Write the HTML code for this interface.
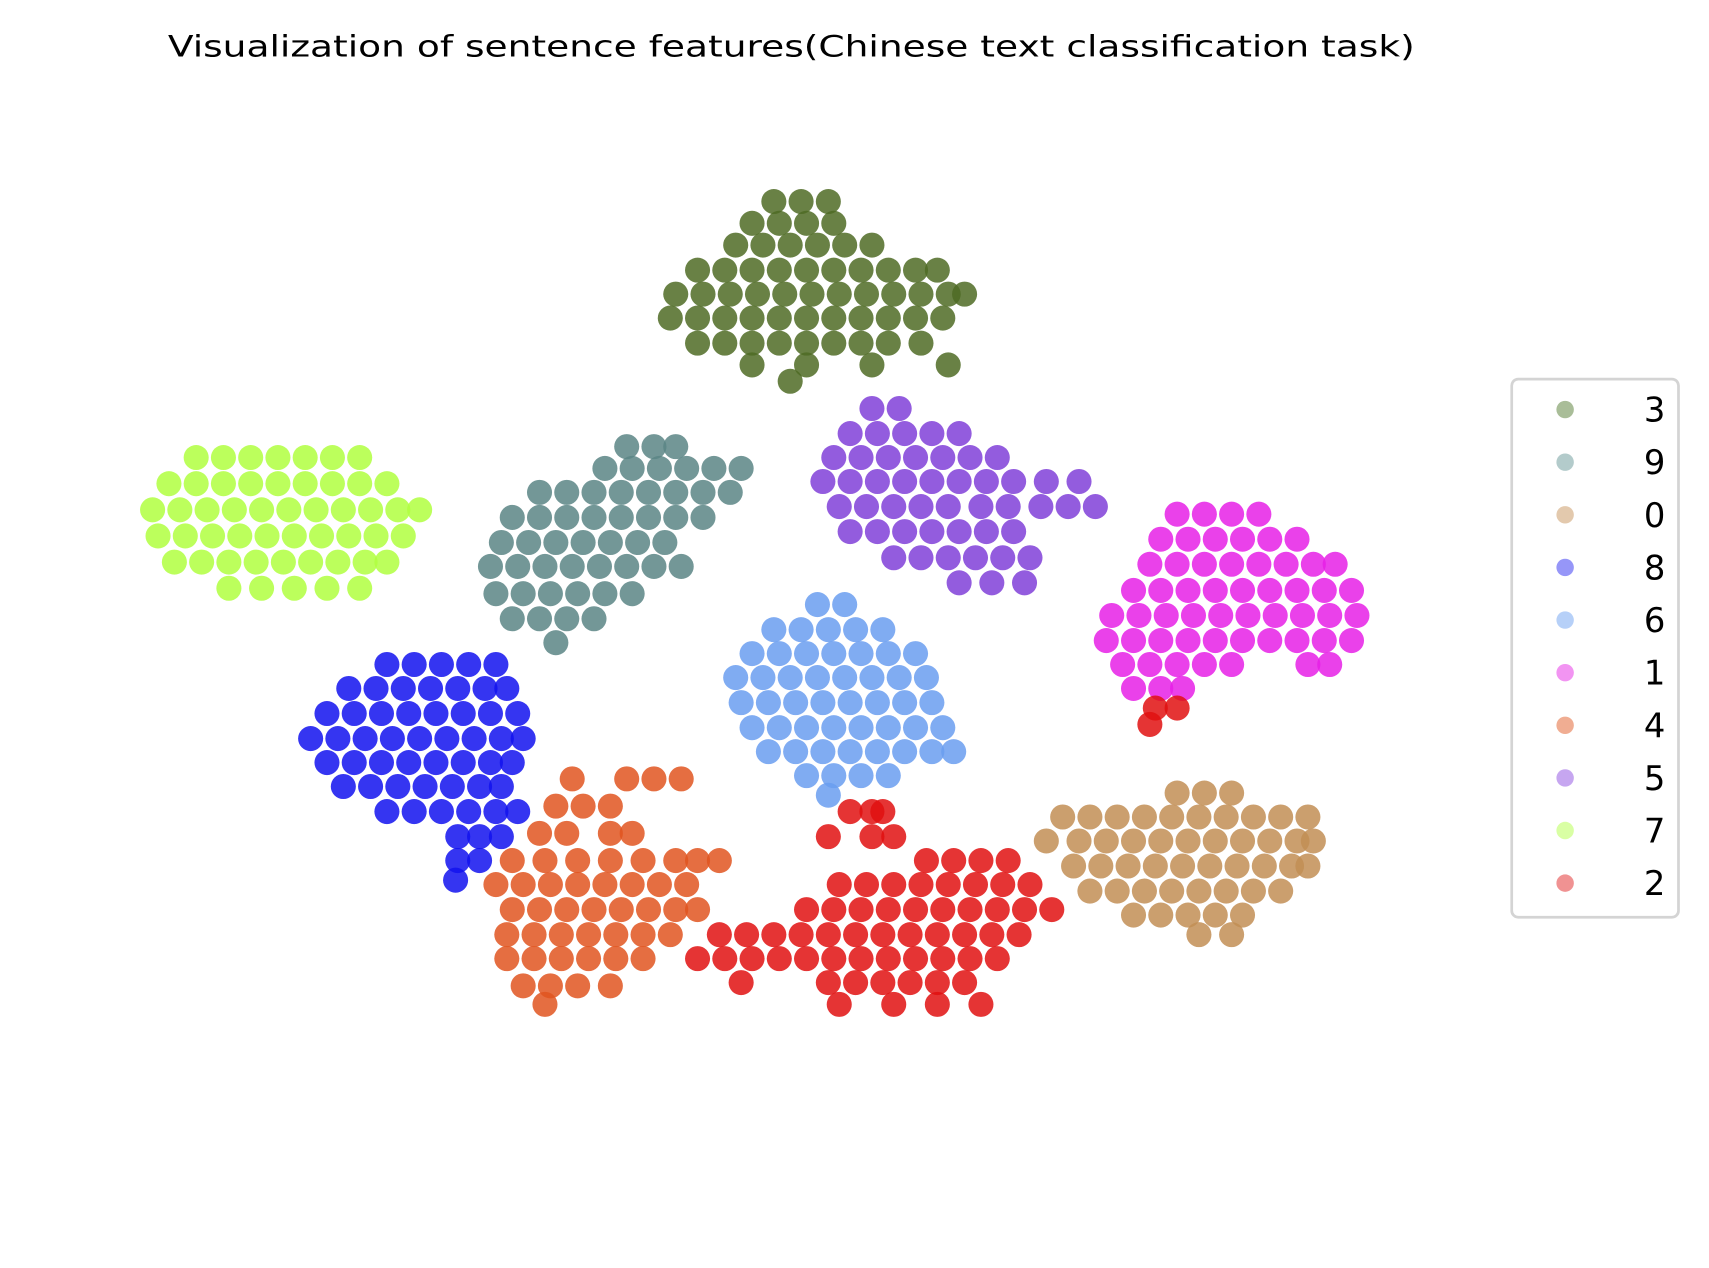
<!DOCTYPE html>
<html><head><meta charset="utf-8"><style>html,body{margin:0;padding:0;background:#fff}svg{display:block}</style></head>
<body>
<svg id="chart" width="1709" height="1268" viewBox="0 0 1568 1164" preserveAspectRatio="none" xmlns="http://www.w3.org/2000/svg">
<rect width="1568" height="1164" fill="#fff"/>
<text x="726" y="52" text-anchor="middle" font-family="DejaVu Sans, Liberation Sans, sans-serif" font-size="27" textLength="1144" lengthAdjust="spacingAndGlyphs" fill="#000">Visualization of sentence features(Chinese text classification task)</text>
<g id="points"></g>
<g id="legend"></g>
</svg>
<script>
const labels = ["3","9","0","8","6","1","4","5","7","2"];
const pointColors = ["#4f6b25","#5a8585","#c28e55","#1212ee","#6a9df0","#e620e6","#e05520","#8040d8","#b0ff40","#e01010"];
const legendColors = ["#a9bd98","#b3cbcb","#e3c9ad","#9696f8","#b6d0f8","#f294f2","#f0ad92","#c6a6f0","#d9ffa4","#f09292"];
// cluster rows: [y, [x values]]
const c3 = [[185,[710,735,760]],[205,[690,715,740,765]],[225,[675,700,725,750,775,800]],[248,[640,665,690,715,740,765,790,815,840,860]],[270,[620,645,670,695,720,745,770,795,820,845,870,885]],[292,[615,640,665,690,715,740,765,790,815,840,865]],[315,[640,665,690,715,740,765,790,815,845]],[335,[690,740,800,870]],[350,[725]]];
const c9 = [[410,[575,600,620]],[430,[555,580,605,630,655,680]],[452,[495,520,545,570,595,620,645,670]],[475,[470,495,520,545,570,595,620,645]],[498,[460,485,510,535,560,585,610]],[520,[450,475,500,525,550,575,600,625]],[545,[455,480,505,530,555,580]],[568,[470,495,520,545]],[590,[510]]];
const c0 = [[728,[1080,1105,1130]],[750,[975,1000,1025,1050,1075,1100,1125,1150,1175,1200]],[772,[960,990,1015,1040,1065,1090,1115,1140,1165,1190,1205]],[795,[985,1010,1035,1060,1085,1110,1135,1160,1185,1200]],[818,[1000,1025,1050,1075,1100,1125,1150,1175]],[840,[1040,1065,1090,1115,1140]],[858,[1100,1130]]];
const c8 = [[610,[355,380,405,430,455]],[632,[320,345,370,395,420,445,465]],[655,[300,325,350,375,400,425,450,475]],[678,[285,310,335,360,385,410,435,460,480]],[700,[300,325,350,375,400,425,450,470]],[722,[315,340,365,390,415,440,460]],[745,[355,380,405,430,455,475]],[768,[420,440,460]],[790,[420,440]],[808,[418]]];
const c6 = [[555,[750,775]],[578,[710,735,760,785,810]],[600,[690,715,740,765,790,815,840]],[622,[675,700,725,750,775,800,825,850]],[645,[680,705,730,755,780,805,830,855]],[668,[690,715,740,765,790,815,840,865]],[690,[705,730,755,780,805,830,855,875]],[712,[740,765,790,815]],[730,[760]]];
const c1 = [[472,[1080,1105,1130,1155]],[495,[1065,1090,1115,1140,1165,1190]],[518,[1055,1080,1105,1130,1155,1180,1205,1225]],[542,[1040,1065,1090,1115,1140,1165,1190,1215,1240]],[565,[1020,1045,1070,1095,1120,1145,1170,1195,1220,1245]],[588,[1015,1040,1065,1090,1115,1140,1165,1190,1215,1240]],[610,[1030,1055,1080,1105,1130,1200,1220]],[632,[1040,1065,1085]]];
const c4 = [[715,[525,575,600,625]],[740,[510,535,560]],[765,[495,520,560,580]],[790,[470,500,530,560,590,620,640,660]],[812,[455,480,505,530,555,580,605,630]],[835,[470,495,520,545,570,595,620,640]],[858,[465,490,515,540,565,590,615]],[880,[465,490,515,540,565,590]],[905,[480,505,530,560]],[922,[500]]];
const c5 = [[375,[800,825]],[398,[780,805,830,855,880]],[420,[765,790,815,840,865,890,915]],[442,[755,780,805,830,855,880,905,930,960,990]],[465,[770,795,820,845,870,900,925,955,980,1005]],[488,[780,805,830,855,880,905,930]],[512,[820,845,870,895,920,945]],[535,[880,910,940]]];
const c7 = [[420,[180,205,230,255,280,305,330]],[444,[155,180,205,230,255,280,305,330,355]],[468,[140,165,190,215,240,265,290,315,340,365,385]],[492,[145,170,195,220,245,270,295,320,345,370]],[516,[160,185,210,235,260,285,310,335,355]],[540,[210,240,270,300,330]]];
const c2 = [[650,[1060,1080]],[665,[1055]],[745,[780,800,810]],[768,[760,800,820]],[790,[850,875,900,925]],[812,[770,795,820,845,870,895,920,945]],[835,[740,765,790,815,840,865,890,915,940,965]],[858,[660,685,710,735,760,785,810,835,860,885,910,935]],[880,[640,665,690,715,740,765,790,815,840,865,890,915]],[902,[680,760,785,810,835,860,885]],[922,[770,820,860,900]]];
const clusters = [c3,c9,c0,c8,c6,c1,c4,c5,c7,c2];

const xScale = v => 0 + (v - 0) * 1;
const yScale = v => 0 + (v - 0) * 1;
const NS = "http://www.w3.org/2000/svg";
const g = document.getElementById("points");
clusters.forEach((rows, ci) => {
  rows.forEach(([y, xs]) => {
    xs.forEach(x => {
      const c = document.createElementNS(NS, "circle");
      c.setAttribute("cx", xScale(x));
      c.setAttribute("cy", yScale(y));
      c.setAttribute("r", 11.5);
      c.setAttribute("fill", pointColors[ci]);
      c.setAttribute("fill-opacity", 0.85);
      
      
      g.appendChild(c);
    });
  });
});
const lg = document.getElementById("legend");
const box = document.createElementNS(NS, "rect");
box.setAttribute("x", 1387); box.setAttribute("y", 348); box.setAttribute("width", 153); box.setAttribute("height", 494);
box.setAttribute("rx", 6); box.setAttribute("fill", "#fff"); box.setAttribute("stroke", "#d4d4d4"); box.setAttribute("stroke-width", 2.5);


lg.appendChild(box);
labels.forEach((l, i) => {
  const y = 376 + i * 48.3;
  const m = document.createElementNS(NS, "circle");
  m.setAttribute("cx", 1436); m.setAttribute("cy", y); m.setAttribute("r", 8); m.setAttribute("fill", legendColors[i]);
  
  
  lg.appendChild(m);
  const t = document.createElementNS(NS, "text");
  t.setAttribute("x", 1528); t.setAttribute("y", y + 11); t.setAttribute("text-anchor", "end");
  t.setAttribute("font-family", "DejaVu Sans, Liberation Sans, sans-serif"); t.setAttribute("font-size", 31);
  t.textContent = l;
  
  
  lg.appendChild(t);
});
</script>
</body></html>
